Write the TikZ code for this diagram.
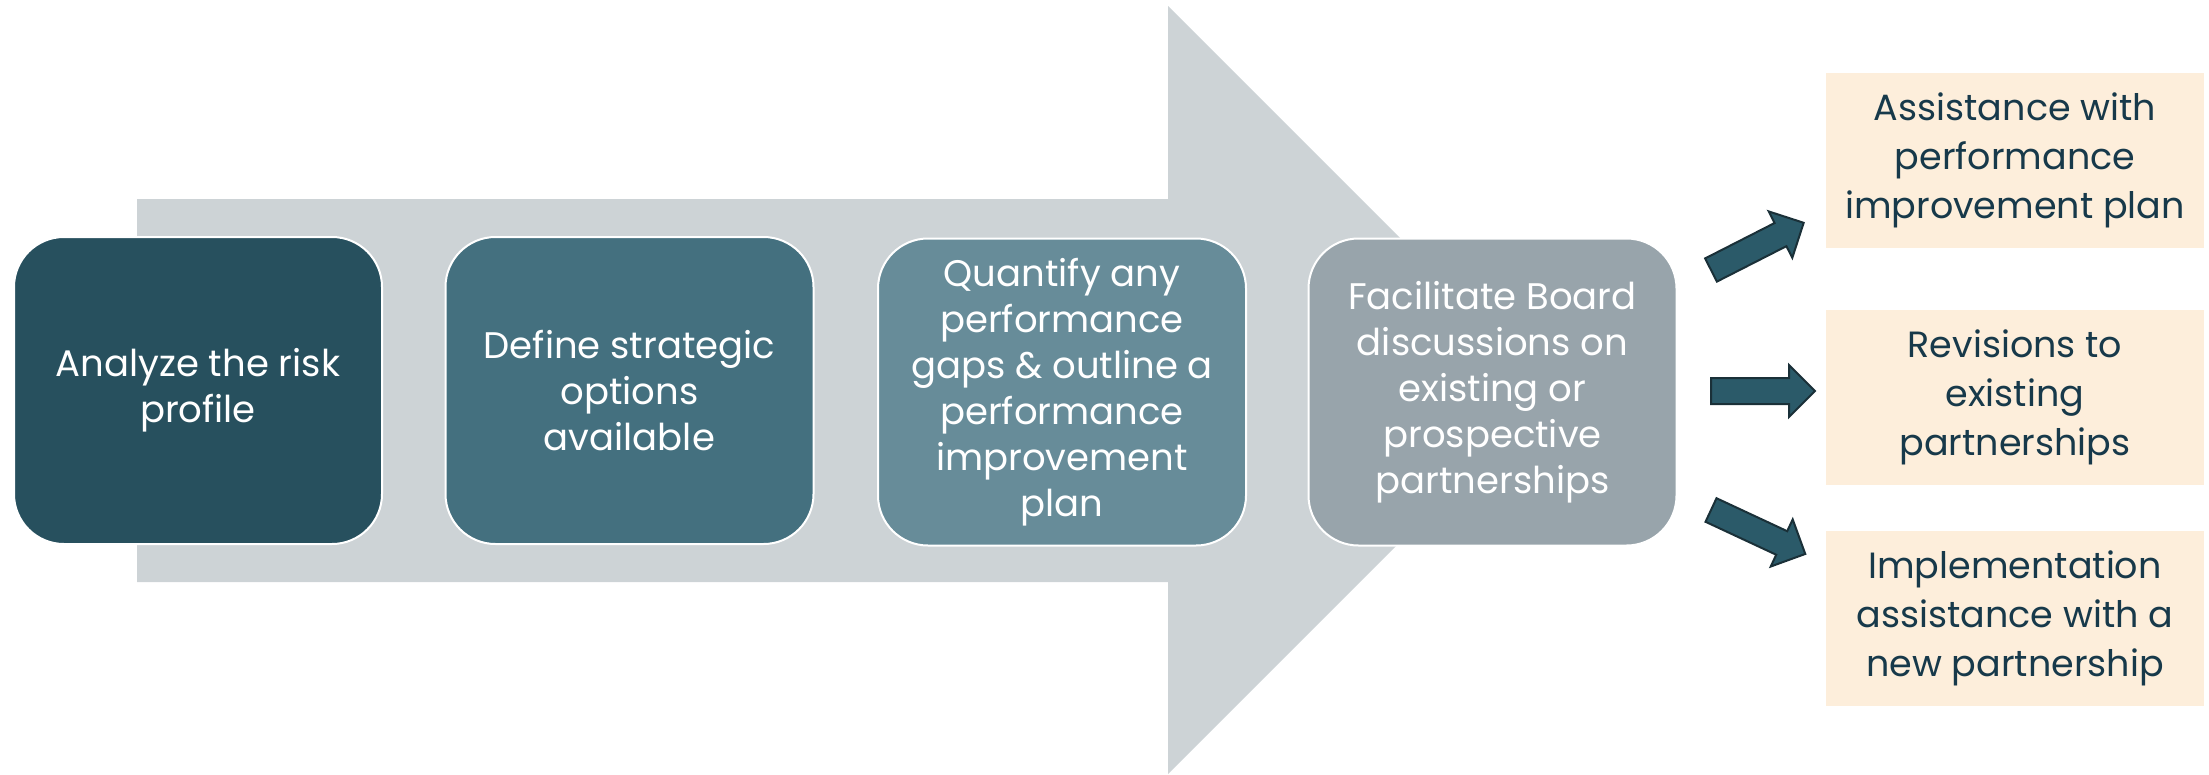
\documentclass[tikz,border=0pt]{standalone}
\usepackage{fontspec}
\setmainfont{Poppins}
\usepackage{tikz}
\usetikzlibrary{positioning}

\definecolor{bandgray}{HTML}{CDD3D6}
\definecolor{stageA}{HTML}{27505E}
\definecolor{stageB}{HTML}{44707F}
\definecolor{stageC}{HTML}{678C99}
\definecolor{stageD}{HTML}{98A4AB}
\definecolor{cream}{HTML}{FDEEDB}
\definecolor{inkblue}{HTML}{17394A}
\definecolor{arrowfill}{HTML}{2B5A69}
\definecolor{arrowline}{HTML}{1A3038}

\tikzset{
  stage/.style={draw=white, line width=2pt, rounded corners=50pt,
    minimum width=368pt, minimum height=307pt, align=center,
    text=white, font=\fontsize{37}{46}\selectfont},
  outcome/.style={fill=cream, minimum width=378pt, minimum height=175pt,
    align=center, text=inkblue, font=\fontsize{36.5}{49}\selectfont},
  blockarrow/.style={fill=arrowfill, draw=arrowline, line width=2pt}
}

\begin{document}
\begin{tikzpicture}[x=1pt, y=-1pt]
\useasboundingbox (0,0) rectangle (2209,774);

% big background arrow
\fill[bandgray] (137,199) -- (1168,199) -- (1168,6) -- (1552,390)
  -- (1168,774) -- (1168,582) -- (137,582) -- cycle;

% the four stages
\node[stage, fill=stageA] (analyze) at (198,390.5) {Analyze the risk\\profile};
\node[stage, fill=stageB] (define) at (629.5,390.5) {Define strategic\\options\\available};
\node[stage, fill=stageC] (quantify) at (1062,392)
  {Quantify any\\performance\\gaps \& outline a\\performance\\improvement\\plan};
\node[stage, fill=stageD] (board) at (1492.5,392)
  {Facilitate Board\\discussions on\\existing or\\prospective\\partnerships};

% outcomes
\node[outcome] (assist) at (2015,160) {Assistance with\\performance\\improvement plan};
\node[outcome] (revise) at (2015,397) {Revisions to\\existing\\partnerships};
\node[outcome] (implement) at (2015,618) {Implementation\\assistance with a\\new partnership};

% block arrows towards the outcomes
\coordinate (tailA) at (1711,270);
\coordinate (tailB) at (1711,391);
\coordinate (tailC) at (1711,510);
\foreach \t/\a in {tailA/27, tailB/0, tailC/-25}{
  \begin{scope}[shift={(\t)}, rotate=\a]
    \draw[blockarrow] (0,-13) -- (78,-13) -- (78,-26) -- (104,0)
      -- (78,26) -- (78,13) -- (0,13) -- cycle;
  \end{scope}
}

\end{tikzpicture}
\end{document}
